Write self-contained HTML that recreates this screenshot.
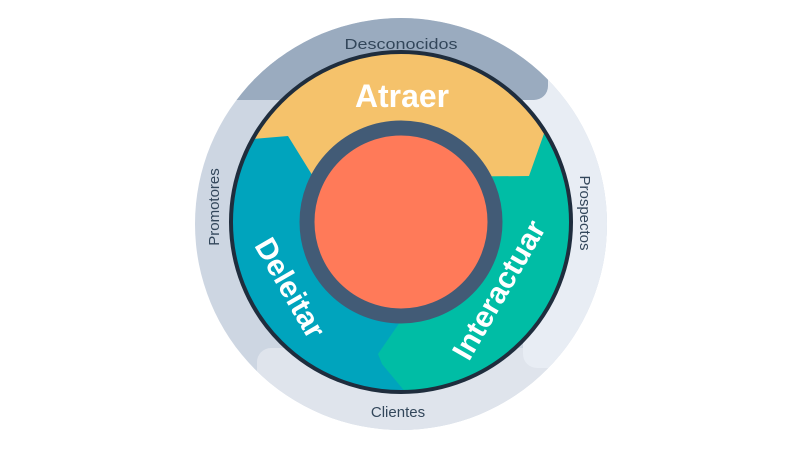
<!DOCTYPE html>
<html><head><meta charset="utf-8"><style>
html,body{margin:0;padding:0;background:#fff;width:800px;height:450px;overflow:hidden;}
svg{display:block;}
text{font-family:"Liberation Sans",sans-serif;}
</style></head><body>
<svg width="800" height="450" viewBox="0 0 800 450" xmlns="http://www.w3.org/2000/svg">
<defs>
<clipPath id="outer"><circle cx="401" cy="224" r="206"/></clipPath>
<clipPath id="inner"><circle cx="401" cy="222" r="170"/></clipPath>
</defs>
<g clip-path="url(#outer)">
<rect x="150" y="0" width="500" height="450" fill="#cdd6e2"/>
<rect x="257" y="348" width="450" height="150" rx="14" fill="#dfe4ec"/>
<rect x="523" y="78" width="180" height="290" rx="14" fill="#e8edf4"/>
<rect x="180" y="-60" width="368" height="160" rx="14" fill="#9aabbf"/>
<rect x="160" y="-60" width="120" height="140" rx="0" fill="#9aabbf"/>
</g>
<g clip-path="url(#inner)">
<rect x="200" y="40" width="420" height="380" fill="#00a4bd"/>
<polygon points="400,322 378,354 382,364 412,400 700,400 700,128 546,128 529,176 490,176" fill="#00bda5"/>
<polygon points="100,152 288,136 314,178 529,176 546,128 700,128 700,0 100,0" fill="#f5c26b"/>
</g>
<circle cx="401" cy="222" r="170" fill="none" stroke="#1f2d3d" stroke-width="4"/>
<circle cx="401" cy="222" r="94" fill="#ff7a59" stroke="#425b76" stroke-width="15"/>
<text x="402" y="107" font-size="32" font-weight="bold" fill="#fff" text-anchor="middle" textLength="94" lengthAdjust="spacingAndGlyphs">Atraer</text>
<text transform="translate(499,290) rotate(-60)" font-size="30" font-weight="bold" fill="#fff" text-anchor="middle" dy="10">Interactuar</text>
<text transform="translate(290,288) rotate(60)" font-size="30" font-weight="bold" fill="#fff" text-anchor="middle" dy="10">Deleitar</text>
<text x="401" y="49" font-size="15" fill="#33475b" text-anchor="middle" textLength="113" lengthAdjust="spacingAndGlyphs">Desconocidos</text>
<text x="398" y="417" font-size="15" fill="#33475b" text-anchor="middle">Clientes</text>
<text transform="translate(580,213) rotate(90)" font-size="15" fill="#33475b" text-anchor="middle">Prospectos</text>
<text transform="translate(219,207) rotate(-90)" font-size="15" fill="#33475b" text-anchor="middle">Promotores</text>
</svg>
</body></html>
